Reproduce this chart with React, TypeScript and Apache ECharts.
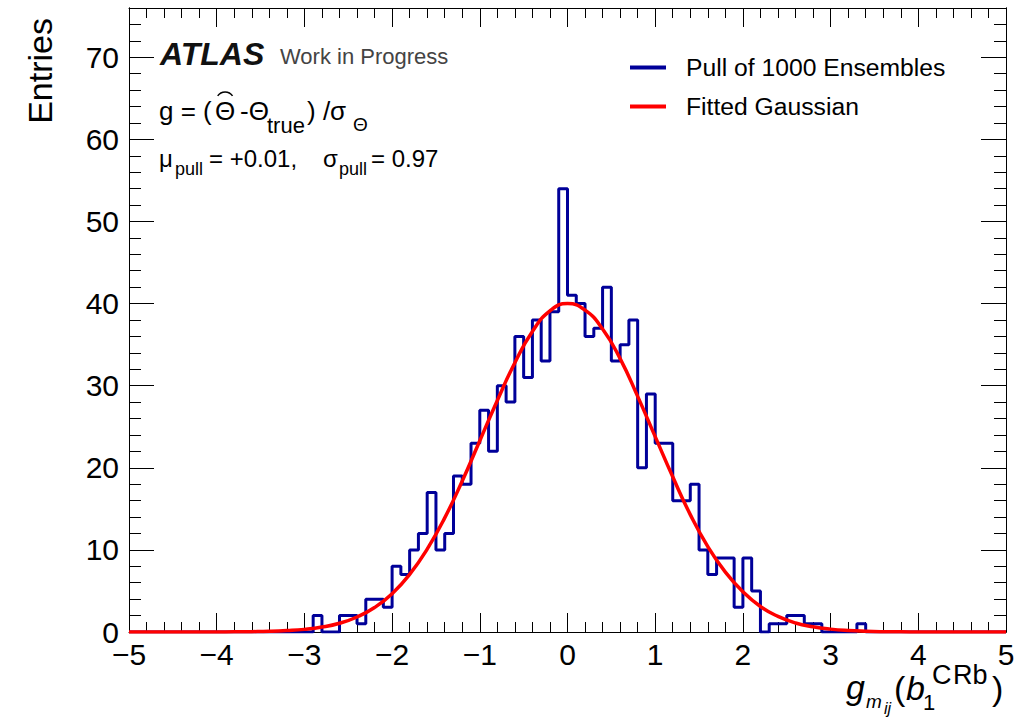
import React, { useEffect, useRef } from 'react';
import * as echarts from 'echarts';

// Histogram: 100 bins of width 0.1 from -5 to 5
const binLow = -5;
const binWidth = 0.1;
const counts = [
  // -5.0 .. -3.1
  0, 0, 0, 0, 0, 0, 0, 0, 0, 0, 0, 0, 0, 0, 0, 0, 0, 0, 0, 0,
  // -3.0 .. -2.1
  0, 2, 0, 0, 2, 2, 1, 4, 4, 3,
  // -2.0 .. -1.1
  8, 7, 10, 12, 17, 10, 12, 19, 18, 23,
  // -1.0 .. -0.1
  27, 22, 30, 28, 36, 31, 38, 33, 39, 54,
  // 0.0 .. 0.9
  41, 40, 36, 37, 42, 33, 35, 38, 20, 29,
  // 1.0 .. 1.9
  23, 23, 16, 16, 18, 10, 7, 9, 9, 3,
  // 2.0 .. 2.9
  9, 5, 0, 1, 1, 2, 2, 1, 1, 0,
  // 3.0 .. 3.3
  0, 0, 0, 1,
  // 3.4 .. 4.9
  0, 0, 0, 0, 0, 0, 0, 0, 0, 0, 0, 0, 0, 0, 0, 0,
];

// Fitted Gaussian curve
const gaussX = [
  -5, -4.8, -4.6, -4.4, -4.2, -4, -3.8, -3.6, -3.4, -3.2, -3, -2.8, -2.6, -2.4, -2.2, -2,
  -1.8, -1.6, -1.4, -1.2, -1, -0.8, -0.6, -0.4, -0.2, 0, 0.2, 0.4, 0.6, 0.8, 1,
  1.2, 1.4, 1.6, 1.8, 2, 2.2, 2.4, 2.6, 2.8, 3, 3.2, 3.4, 3.6, 3.8, 4, 4.2, 4.4, 4.6, 4.8, 5,
];
const gaussY = [
  0, 0, 0, 0, 0, 0.01, 0.02, 0.04, 0.08, 0.17, 0.32, 0.6, 1.07, 1.83, 2.98, 4.67,
  7.02, 10.1, 13.9, 18.4, 23.3, 28.2, 32.8, 36.6, 39.1, 40.0, 39.2, 36.9, 33.3, 28.7, 23.8,
  18.9, 14.3, 10.4, 7.3, 4.9, 3.1, 1.9, 1.1, 0.64, 0.35, 0.18, 0.09, 0.04, 0.02, 0.01, 0, 0, 0, 0, 0,
];

const seriesNames = ['Pull of 1000 Ensembles', 'Fitted Gaussian'];
const xMin = -5;
const xMax = 5;
const yMin = 0;
const yMax = 76;

const FONT = 'Liberation Sans';

function txt(text: string, x: number, y: number, size: number, extra: any = {}) {
  return {
    type: 'text',
    x,
    y,
    silent: true,
    style: {
      text,
      fontSize: size,
      fontFamily: FONT,
      fill: extra.fill || '#000',
      fontStyle: extra.italic ? 'italic' : 'normal',
      fontWeight: extra.bold ? 'bold' : 'normal',
      align: extra.align || 'left',
      textAlign: extra.align || 'left',
      verticalAlign: 'middle',
      textVerticalAlign: 'middle',
    },
    ...(extra.rotation ? { rotation: extra.rotation } : {}),
  };
}

export default function App() {
  const ref = useRef<HTMLDivElement>(null);
  useEffect(() => {
    const chart = echarts.init(ref.current!, null, { renderer: 'svg' });
    const histData: number[][] = counts.map((c, i) => [binLow + i * binWidth, c]);
    histData.push([binLow + counts.length * binWidth, counts[counts.length - 1]]);
    const gaussData = gaussX.map((x, i) => [x, gaussY[i]]);

    const minus = (v: number) => (v < 0 ? '\u2212' + Math.abs(v) : String(v));
    const tickStyle = { color: '#000', width: 1 };
    const xBase = (pos: string, labels: boolean) => ({
      type: 'value',
      min: xMin,
      max: xMax,
      interval: 1,
      position: pos,
      axisLine: { show: true, onZero: false, lineStyle: tickStyle },
      axisTick: { show: true, inside: true, length: 19, lineStyle: tickStyle },
      minorTick: { show: true, splitNumber: 5, length: 10, lineStyle: tickStyle },
      axisLabel: labels
        ? { show: true, fontFamily: FONT, fontSize: 30, color: '#000', margin: 7, formatter: minus }
        : { show: false },
      splitLine: { show: false },
      minorSplitLine: { show: false },
    });
    const yBase = (pos: string, interval: number, len: number, labels: boolean) => ({
      type: 'value',
      min: yMin,
      max: yMax,
      interval,
      position: pos,
      axisLine: { show: true, onZero: false, lineStyle: tickStyle },
      axisTick: { show: true, inside: true, length: len, lineStyle: tickStyle },
      axisLabel: labels
        ? {
            show: true,
            fontFamily: FONT,
            fontSize: 30,
            color: '#000',
            margin: 10,
            formatter: (v: number) => (v % 10 === 0 ? String(v) : ''),
          }
        : { show: false },
      splitLine: { show: false },
    });

    const thetaX = 215;
    const thetaW = 0.778 * 26;

    const option: any = {
      animation: false,
      backgroundColor: '#fff',
      grid: { left: 129, right: 24, top: 8, bottom: 86, outerBoundsMode: 'none', containLabel: false },
      xAxis: [xBase('bottom', true), xBase('top', false)],
      yAxis: [
        yBase('left', 10, 25, true),
        yBase('left', 2, 12, false),
        yBase('right', 10, 25, false),
        yBase('right', 2, 12, false),
      ],
      legend: {
        orient: 'vertical',
        left: 630,
        top: 55,
        padding: 0,
        itemGap: 14,
        itemWidth: 36,
        itemHeight: 4,
        icon: 'rect',
        selectedMode: false,
        textStyle: { fontFamily: FONT, fontSize: 24.7, color: '#000', padding: [0, 0, 0, 15] },
        data: seriesNames,
      },
      series: [
        {
          name: seriesNames[0],
          type: 'line',
          step: 'end',
          data: histData,
          xAxisIndex: 0,
          yAxisIndex: 0,
          showSymbol: false,
          symbol: 'none',
          lineStyle: { color: '#000099', width: 3 },
          itemStyle: { color: '#000099' },
          z: 3,
        },
        {
          name: seriesNames[1],
          type: 'line',
          smooth: true,
          data: gaussData,
          xAxisIndex: 0,
          yAxisIndex: 0,
          showSymbol: false,
          symbol: 'none',
          lineStyle: { color: '#ff0000', width: 3.5 },
          itemStyle: { color: '#ff0000' },
          z: 4,
        },
      ],
      graphic: [
        txt('Entries', 40, 18, 34, { align: 'right', rotation: Math.PI / 2 }),
        txt('ATLAS', 160, 54, 32, { italic: true, bold: true, fill: '#111' }),
        txt('Work in Progress', 280, 56, 22, { fill: '#444' }),
        // g = (Theta-hat - Theta_true) / sigma_Theta
        txt('g = (', 159, 111, 26),
        txt('\u0398', thetaX, 111, 26),
        {
          type: 'arc',
          silent: true,
          shape: {
            cx: thetaX + thetaW / 2,
            cy: 101,
            r: 9,
            startAngle: Math.PI + 0.6,
            endAngle: 2 * Math.PI - 0.6,
            clockwise: true,
          },
          style: { stroke: '#000', lineWidth: 1.5, fill: 'none' },
        },
        txt('-\u0398', 240, 111, 26),
        txt('true', 267, 125, 22),
        txt(') /\u03c3', 307, 111, 26),
        txt('\u0398', 353, 124, 19),
        // mu_pull = +0.01,  sigma_pull = 0.97
        txt('\u03bc', 159, 158, 24),
        txt('pull', 175, 169, 18),
        txt('= +0.01,', 209, 158, 24),
        txt('\u03c3', 323, 158, 24),
        txt('pull', 339, 169, 18),
        txt('= 0.97', 371, 158, 24),
        // x-axis title g_{m_ij}(b_1^{CRb})
        txt('g', 846, 687, 34, { italic: true }),
        txt('m', 866, 701, 19, { italic: true }),
        txt('ij', 884, 708, 16, { italic: true }),
        txt('(', 894, 688, 34),
        txt('b', 906, 688, 34, { italic: true }),
        txt('1', 923, 702, 22),
        txt('C', 932, 675, 27),
        txt('Rb', 953, 675, 27),
        txt(')', 992, 688, 34),
      ],
    };
    chart.setOption(option);
    return () => chart.dispose();
  }, []);
  return (
    <div
      ref={ref}
      style={{ position: 'fixed', left: 0, top: 0, width: 1030, height: 718, background: '#fff' }}
    />
  );
}
